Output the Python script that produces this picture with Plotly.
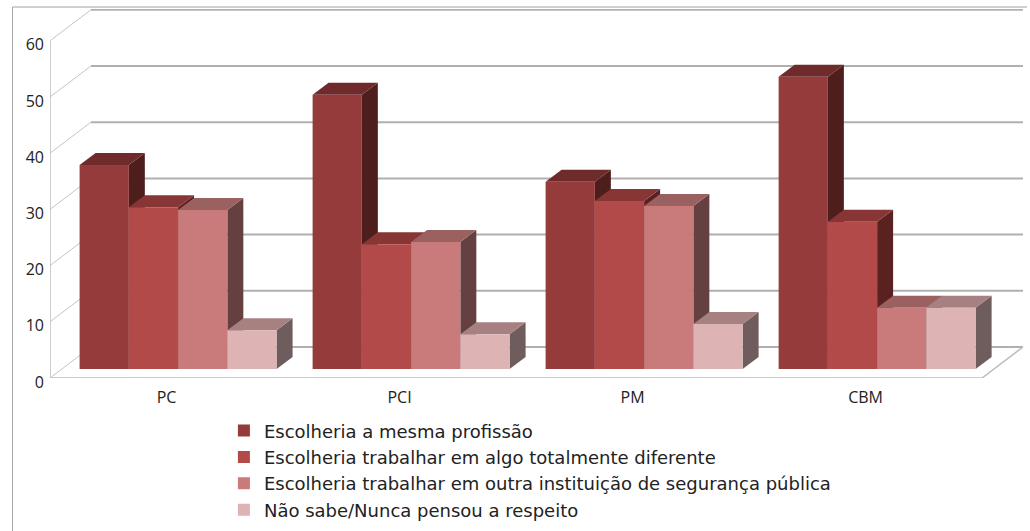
import plotly.graph_objects as go

categories = ["PC", "PCI", "PM", "CBM"]
series_names = [
    "Escolheria a mesma profissão",
    "Escolheria trabalhar em algo totalmente diferente",
    "Escolheria trabalhar em outra instituição de segurança pública",
    "Não sabe/Nunca pensou a respeito",
]
mesma = [36.3, 48.8, 33.3, 52.0]
diferente = [28.8, 22.2, 29.9, 26.2]
outra = [28.3, 22.6, 29.0, 10.9]
nao_sabe = [6.9, 6.2, 8.0, 10.9]
series_values = [mesma, diferente, outra, nao_sabe]
y_ticks = [0, 10, 20, 30, 40, 50, 60]

front_colors = ["#953B3B", "#B24A4A", "#C97B7B", "#DEB3B3"]
top_colors = ["#6F2B2B", "#873635", "#9B6060", "#A78182"]
side_colors = ["#4D1E1C", "#5A2121", "#654040", "#6F5C5C"]

W, H = 1030, 531
L, R, T, B = 49.5, 1023, 9, 378
PX_X = 233.25   # px per category
PX_Y = 5.62     # px per value unit
wall_dx, wall_dy = 41 / PX_X, 31 / PX_Y
bar_dx, bar_dy = 16 / PX_X, 12 / PX_Y
bar_base = 9 / PX_Y
bar_w = 49.3 / PX_X
group_left = -87 / PX_X

fig = go.Figure()

# walls and gridlines
back_x, back_y, diag_x, diag_y = [], [], [], []
for v in y_ticks:
    back_x += [-0.5 + wall_dx, 3.5 + wall_dx, None]
    back_y += [v + wall_dy, v + wall_dy, None]
    diag_x += [-0.5, -0.5 + wall_dx, None]
    diag_y += [v, v + wall_dy, None]
fig.add_trace(go.Scatter(x=diag_x, y=diag_y, mode="lines", line=dict(color="#C4C4C4", width=1),
                         showlegend=False, hoverinfo="skip", cliponaxis=False))
fig.add_trace(go.Scatter(x=back_x, y=back_y, mode="lines", line=dict(color="#B0B0B0", width=2),
                         showlegend=False, hoverinfo="skip", cliponaxis=False))
fig.add_trace(go.Scatter(x=[-0.5, -0.5, None, -0.5, 3.5, 3.5 + wall_dx],
                         y=[60, 0, None, 0, 0, wall_dy], mode="lines",
                         line=dict(color="#BDBDBD", width=1.5),
                         showlegend=False, hoverinfo="skip", cliponaxis=False))

# depth faces: tops and sides, left to right, below the front faces
for g in range(len(categories)):
    for s in range(len(series_values)):
        x0 = g + group_left + s * bar_w
        x1 = x0 + bar_w
        top = bar_base + series_values[s][g]
        fig.add_trace(go.Scatter(
            x=[x1, x1 + bar_dx, x1 + bar_dx, x1, x1],
            y=[bar_base, bar_base + bar_dy, top + bar_dy, top, bar_base],
            mode="lines", fill="toself", fillcolor=side_colors[s], line=dict(width=0),
            showlegend=False, hoverinfo="skip"))
        fig.add_trace(go.Scatter(
            x=[x0, x1, x1 + bar_dx, x0 + bar_dx, x0],
            y=[top, top, top + bar_dy, top + bar_dy, top],
            mode="lines", fill="toself", fillcolor=top_colors[s], line=dict(width=0),
            showlegend=False, hoverinfo="skip"))

# front faces on an overlaying axis pair so they cover the depth faces
for s, name in enumerate(series_names):
    fig.add_trace(go.Bar(
        x=[g + group_left + (s + 0.5) * bar_w for g in range(len(categories))],
        y=series_values[s], base=[bar_base] * len(categories), width=bar_w,
        name=name, marker=dict(color=front_colors[s], line=dict(width=0)),
        xaxis="x2", yaxis="y2", legendgroup=name,
    ))

x_range = [-0.5, 3.5 + wall_dx]
y_range = [0, (B - T) / PX_Y]
fig.update_layout(
    width=W, height=H,
    margin=dict(l=L, r=W - R, t=T, b=H - B, autoexpand=False),
    paper_bgcolor="white", plot_bgcolor="rgba(0,0,0,0)",
    barmode="overlay",
    font=dict(family="Open Sans", color="#222222"),
    xaxis=dict(range=x_range, tickmode="array", tickvals=list(range(4)), ticktext=categories,
               showgrid=False, zeroline=False, showline=False, ticks="", ticklabelstandoff=8,
               tickfont=dict(size=16, color="#222222")),
    yaxis=dict(range=y_range, tickmode="array", tickvals=y_ticks, showgrid=False, zeroline=False,
               showline=False, ticks="", ticklabelstandoff=5, ticklabelshift=4,
               tickfont=dict(size=16, color="#222222")),
    xaxis2=dict(range=x_range, overlaying="x", visible=False),
    yaxis2=dict(range=y_range, overlaying="y", visible=False),
    legend=dict(x=174 / (R - L), y=-0.093, xanchor="left", yanchor="top",
                xref="paper", yref="paper",
                font=dict(family="DejaVu Sans", size=18, color="#222222"), tracegroupgap=0,
                itemwidth=30, bgcolor="rgba(0,0,0,0)"),
    shapes=[
        dict(type="line", xref="paper", yref="paper",
             x0=(12 - L) / (R - L), x1=(12 - L) / (R - L),
             y0=(B - 7) / (B - T), y1=(B - 531) / (B - T), line=dict(color="#A8A8A8", width=1)),
        dict(type="line", xref="paper", yref="paper",
             x0=(12 - L) / (R - L), x1=(1027 - L) / (R - L),
             y0=(B - 7) / (B - T), y1=(B - 7) / (B - T), line=dict(color="#A0A0A0", width=1)),
    ],
)
fig.write_html("out.html", config={"displayModeBar": False},
               post_script="document.body.style.margin='0';")
